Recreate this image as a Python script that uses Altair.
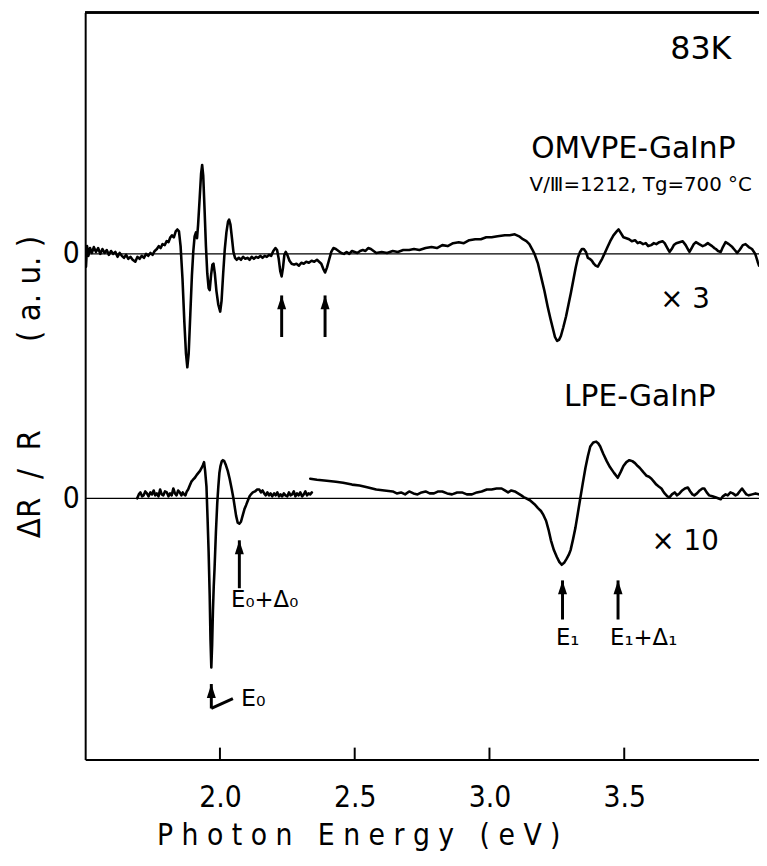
import altair as alt
import pandas as pd

# ---------------- data (x: photon energy in eV, y: dR/R in a.u. relative to each trace's zero) -------------
omvpe_x = [1.500, 1.503, 1.507, 1.512, 1.518, 1.525, 1.532, 1.540, 1.548, 1.556, 1.564, 1.572, 1.580, 1.588,
           1.596, 1.604, 1.612, 1.620, 1.628, 1.636, 1.644, 1.652, 1.660, 1.668, 1.676, 1.686, 1.694, 1.702,
           1.710, 1.718, 1.726, 1.734, 1.742, 1.750, 1.758, 1.766, 1.773, 1.780, 1.787, 1.795, 1.802, 1.809,
           1.816, 1.822, 1.829, 1.836, 1.842, 1.848, 1.854, 1.861, 1.868, 1.874, 1.879, 1.884, 1.890, 1.896,
           1.901, 1.906, 1.911, 1.915, 1.919, 1.925, 1.930, 1.934, 1.938, 1.943, 1.948, 1.953, 1.958, 1.962,
           1.967, 1.972, 1.976, 1.981, 1.987, 1.994, 2.001, 2.006, 2.012, 2.018, 2.024, 2.030, 2.034, 2.039,
           2.045, 2.050, 2.056, 2.062, 2.070, 2.078, 2.086, 2.094, 2.102, 2.110, 2.118, 2.126, 2.134, 2.142,
           2.150, 2.158, 2.166, 2.174, 2.182, 2.190, 2.198, 2.206, 2.212, 2.218, 2.224, 2.229, 2.234, 2.239,
           2.244, 2.250, 2.258, 2.266, 2.275, 2.284, 2.293, 2.302, 2.311, 2.320, 2.330, 2.340, 2.350, 2.360,
           2.368, 2.376, 2.383, 2.390, 2.397, 2.405, 2.413, 2.421, 2.430, 2.440, 2.450, 2.460, 2.470, 2.480,
           2.490, 2.500, 2.510, 2.520, 2.530, 2.540, 2.550, 2.560, 2.570, 2.580, 2.600, 2.620, 2.641, 2.660,
           2.680, 2.702, 2.720, 2.740, 2.763, 2.785, 2.805, 2.825, 2.845, 2.865, 2.886, 2.905, 2.925, 2.947,
           2.968, 2.988, 3.008, 3.030, 3.057, 3.075, 3.094, 3.110, 3.124, 3.137, 3.148, 3.158, 3.167, 3.180,
           3.192, 3.204, 3.216, 3.226, 3.235, 3.243, 3.251, 3.258, 3.265, 3.274, 3.284, 3.293, 3.302, 3.311,
           3.320, 3.328, 3.336, 3.343, 3.350, 3.358, 3.365, 3.372, 3.380, 3.387, 3.394, 3.402, 3.410, 3.418,
           3.428, 3.438, 3.448, 3.460, 3.472, 3.479, 3.486, 3.497, 3.508, 3.518, 3.528, 3.540, 3.550, 3.558,
           3.570, 3.580, 3.589, 3.600, 3.610, 3.619, 3.630, 3.642, 3.650, 3.660, 3.668, 3.676, 3.684, 3.693,
           3.705, 3.717, 3.728, 3.736, 3.742, 3.750, 3.758, 3.766, 3.778, 3.791, 3.800, 3.810, 3.815, 3.826,
           3.834, 3.840, 3.848, 3.858, 3.866, 3.876, 3.888, 3.901, 3.910, 3.919, 3.928, 3.940, 3.950, 3.962,
           3.974, 3.986, 3.995, 4.000]
omvpe_y = [0.03, -0.13, 0.08, -0.02, 0.06, 0.01, 0.07, 0.02, 0.06, 0.00, 0.05, 0.01, 0.04, -0.01,
           0.03, 0.00, 0.02, -0.03, 0.01, -0.02, -0.04, -0.01, -0.05, -0.03, -0.06, -0.08, -0.03, -0.05,
           -0.02, -0.04, 0.00, -0.02, 0.01, -0.01, 0.03, 0.05, 0.08, 0.06, 0.10, 0.09, 0.13, 0.12,
           0.17, 0.19, 0.17, 0.23, 0.25, 0.23, 0.08, -0.25, -0.70, -1.02, -1.16, -1.02, -0.62, -0.22,
           0.02, 0.18, 0.22, 0.16, 0.30, 0.58, 0.82, 0.91, 0.80, 0.45, 0.08, -0.20, -0.35, -0.37,
           -0.22, -0.11, -0.10, -0.20, -0.38, -0.52, -0.59, -0.48, -0.20, 0.05, 0.22, 0.33, 0.35, 0.30,
           0.15, 0.02, -0.04, -0.06, -0.04, -0.06, -0.03, -0.05, -0.04, -0.06, -0.03, -0.05, -0.03, -0.04,
           -0.02, -0.04, -0.02, -0.03, -0.01, -0.02, 0.03, 0.06, 0.04, -0.05, -0.18, -0.23, -0.14, -0.01,
           0.02, -0.01, -0.07, -0.10, -0.11, -0.10, -0.12, -0.09, -0.10, -0.08, -0.09, -0.07, -0.08, -0.06,
           -0.08, -0.10, -0.15, -0.19, -0.14, -0.06, 0.02, 0.06, 0.05, 0.03, 0.01, 0.00, 0.02, 0.00,
           0.03, 0.02, 0.01, 0.03, 0.04, 0.03, 0.06, 0.05, 0.03, 0.01, 0.02, 0.01, 0.03, 0.02,
           0.04, 0.04, 0.05, 0.04, 0.06, 0.07, 0.06, 0.09, 0.08, 0.11, 0.12, 0.11, 0.14, 0.15,
           0.15, 0.17, 0.17, 0.18, 0.19, 0.19, 0.20, 0.18, 0.15, 0.13, 0.10, 0.05, 0.00, -0.10,
           -0.24, -0.38, -0.54, -0.66, -0.76, -0.85, -0.89, -0.88, -0.84, -0.75, -0.64, -0.52, -0.40, -0.27,
           -0.14, -0.04, 0.02, 0.05, 0.05, 0.02, -0.04, -0.05, -0.07, -0.10, -0.12, -0.13, -0.09, -0.05,
           0.01, 0.07, 0.13, 0.19, 0.23, 0.25, 0.22, 0.17, 0.16, 0.15, 0.13, 0.14, 0.11, 0.12,
           0.10, 0.11, 0.08, 0.09, 0.11, 0.10, 0.12, 0.13, 0.11, 0.06, 0.02, 0.05, 0.09, 0.11,
           0.12, 0.13, 0.09, 0.05, 0.02, 0.06, 0.10, 0.12, 0.10, 0.08, 0.09, 0.11, 0.10, 0.08,
           0.06, 0.05, 0.03, 0.02, 0.07, 0.12, 0.10, 0.07, 0.04, 0.01, 0.04, 0.09, 0.10, 0.07,
           0.05, 0.00, -0.08, -0.12]

# LPE trace, low-energy scan segment
lpe_a_x = [1.693, 1.699, 1.705, 1.711, 1.717, 1.723, 1.729, 1.735, 1.742, 1.748, 1.754, 1.760, 1.766, 1.772,
           1.778, 1.784, 1.790, 1.796, 1.803, 1.809, 1.815, 1.821, 1.827, 1.833, 1.839, 1.845, 1.851, 1.857,
           1.862, 1.867, 1.872, 1.877, 1.882, 1.888, 1.894, 1.900, 1.907, 1.914, 1.920, 1.926, 1.932, 1.937,
           1.941, 1.945, 1.950, 1.954, 1.958, 1.962, 1.965, 1.968, 1.971, 1.974, 1.977, 1.980, 1.985, 1.990,
           1.994, 1.998, 2.002, 2.007, 2.011, 2.016, 2.022, 2.029, 2.036, 2.044, 2.050, 2.055, 2.060, 2.066,
           2.072, 2.078, 2.085, 2.091, 2.097, 2.104, 2.110, 2.115, 2.122, 2.130, 2.138, 2.146, 2.152, 2.158,
           2.164, 2.170, 2.176, 2.182, 2.188, 2.194, 2.201, 2.207, 2.213, 2.219, 2.225, 2.231, 2.237, 2.243,
           2.250, 2.256, 2.262, 2.268, 2.274, 2.280, 2.286, 2.292, 2.298, 2.305, 2.311, 2.317, 2.323, 2.329,
           2.335, 2.341]
lpe_a_y = [0.00, 0.04, 0.06, 0.02, 0.03, 0.07, 0.05, 0.02, 0.06, 0.04, 0.08, 0.03, 0.05, 0.02,
           0.09, 0.04, 0.03, 0.07, 0.06, 0.02, 0.05, 0.03, 0.10, 0.05, 0.03, 0.08, 0.06, 0.03,
           0.06, 0.04, 0.03, 0.07, 0.09, 0.13, 0.17, 0.19, 0.21, 0.24, 0.26, 0.28, 0.31, 0.34,
           0.37, 0.28, 0.12, -0.20, -0.55, -1.00, -1.45, -1.73, -1.50, -1.15, -0.90, -0.72, -0.35, -0.05,
           0.12, 0.26, 0.33, 0.38, 0.39, 0.38, 0.34, 0.28, 0.20, 0.09, 0.00, -0.09, -0.18, -0.25,
           -0.26, -0.24, -0.17, -0.11, -0.07, -0.02, 0.02, 0.04, 0.06, 0.07, 0.09, 0.09, 0.06, 0.08,
           0.05, 0.03, 0.06, 0.03, 0.05, 0.02, 0.05, 0.03, 0.06, 0.02, 0.04, 0.02, 0.05, 0.03,
           0.02, 0.06, 0.03, 0.04, 0.07, 0.02, 0.05, 0.03, 0.06, 0.02, 0.04, 0.07, 0.03, 0.05,
           0.04, 0.06]

# LPE trace, high-energy scan segment
lpe_b_x = [2.335, 2.360, 2.396, 2.430, 2.457, 2.490, 2.518, 2.550, 2.580, 2.610, 2.641, 2.656, 2.672, 2.687,
           2.702, 2.718, 2.733, 2.748, 2.763, 2.778, 2.794, 2.810, 2.825, 2.843, 2.861, 2.880, 2.898, 2.916,
           2.935, 2.953, 2.971, 2.990, 3.008, 3.026, 3.045, 3.057, 3.069, 3.081, 3.094, 3.106, 3.118, 3.128,
           3.136, 3.150, 3.167, 3.180, 3.191, 3.200, 3.210, 3.219, 3.228, 3.239, 3.250, 3.259, 3.268, 3.277,
           3.286, 3.294, 3.301, 3.310, 3.319, 3.328, 3.337, 3.346, 3.356, 3.365, 3.374, 3.385, 3.396, 3.404,
           3.411, 3.417, 3.423, 3.435, 3.447, 3.462, 3.476, 3.487, 3.497, 3.508, 3.519, 3.530, 3.540, 3.550,
           3.558, 3.570, 3.583, 3.592, 3.601, 3.610, 3.619, 3.628, 3.638, 3.645, 3.650, 3.660, 3.668, 3.677,
           3.687, 3.696, 3.705, 3.715, 3.725, 3.736, 3.745, 3.753, 3.760, 3.770, 3.780, 3.790, 3.797, 3.806,
           3.815, 3.827, 3.838, 3.848, 3.858, 3.866, 3.876, 3.884, 3.894, 3.903, 3.913, 3.920, 3.928, 3.937,
           3.945, 3.953, 3.962, 3.975, 3.987, 3.999]
lpe_b_y = [0.20, 0.19, 0.18, 0.17, 0.16, 0.14, 0.13, 0.11, 0.09, 0.08, 0.07, 0.05, 0.06, 0.04,
           0.07, 0.05, 0.04, 0.06, 0.07, 0.05, 0.05, 0.07, 0.07, 0.05, 0.04, 0.06, 0.06, 0.04,
           0.04, 0.06, 0.07, 0.09, 0.09, 0.10, 0.10, 0.08, 0.06, 0.08, 0.07, 0.05, 0.03, 0.01,
           0.00, -0.02, -0.06, -0.10, -0.13, -0.17, -0.23, -0.32, -0.43, -0.53, -0.60, -0.65, -0.68, -0.66,
           -0.62, -0.58, -0.53, -0.42, -0.30, -0.15, 0.00, 0.15, 0.31, 0.43, 0.53, 0.57, 0.58, 0.56,
           0.53, 0.49, 0.45, 0.38, 0.32, 0.26, 0.21, 0.27, 0.33, 0.37, 0.39, 0.38, 0.36, 0.33,
           0.31, 0.27, 0.23, 0.22, 0.20, 0.17, 0.14, 0.12, 0.10, 0.07, 0.05, 0.02, 0.01, 0.04,
           0.06, 0.03, 0.05, 0.08, 0.10, 0.11, 0.07, 0.04, 0.03, 0.05, 0.08, 0.10, 0.10, 0.06,
           0.03, 0.02, 0.01, 0.00, -0.01, 0.02, 0.04, 0.03, 0.06, 0.05, 0.03, 0.04, 0.07, 0.10,
           0.07, 0.04, 0.03, 0.04, 0.05, 0.04]

# vertical offsets of the two traces in the figure
trace_names = ["OMVPE-GaInP", "LPE-GaInP"]
trace_offsets = [2.5, 0.0]

x_ticks = [2.0, 2.5, 3.0, 3.5]

# arrows (x, base, tip) in plot units
arrow_x = [2.229, 2.390, 2.072, 3.271, 3.477, 1.968]
arrow_base = [1.65, 1.65, -0.92, -1.24, -1.24, -2.15]
arrow_tip = [2.075, 2.075, -0.43, -0.84, -0.84, -1.90]

# leader line of the E0 arrow
leader_x = [1.968]
leader_x2 = [2.048]
leader_y = [-2.15]
leader_y2 = [-2.05]

# labels (centered)
label_text = ["83K", "OMVPE-GaInP", "V/Ⅲ=1212, Tg=700 °C", "× 3", "LPE-GaInP", "× 10",
              "E₀+Δ₀", "E₁", "E₁+Δ₁"]
label_x = [3.784, 3.534, 3.561, 3.726, 3.558, 3.726, 2.166, 3.290, 3.572]
label_y = [4.60, 3.573, 3.205, 2.03, 1.032, -0.445, -1.04, -1.43, -1.43]
label_size = [32, 30, 20, 28, 30, 28, 23, 23, 23]
# label (left aligned)
left_text = ["E₀"]
left_x = [2.078]
left_y = [-2.05]

# ---------------- build tables ----------------
rows = []
for seg, (xs, ys, off) in enumerate([(omvpe_x, omvpe_y, trace_offsets[0]),
                                     (lpe_a_x, lpe_a_y, trace_offsets[1]),
                                     (lpe_b_x, lpe_b_y, trace_offsets[1])]):
    for i, (xv, yv) in enumerate(zip(xs, ys)):
        rows.append({"seg": seg, "i": i, "E": xv, "v": yv + off})
traces = pd.DataFrame(rows)

zeros = pd.DataFrame({"name": trace_names, "v": trace_offsets})
arrows = pd.DataFrame({"E": arrow_x, "v": arrow_base, "v2": arrow_tip})
leader = pd.DataFrame({"E": leader_x, "E2": leader_x2, "v": leader_y, "v2": leader_y2})
labels = pd.DataFrame({"t": label_text, "E": label_x, "v": label_y, "s": label_size})
lefts = pd.DataFrame({"t": left_text, "E": left_x, "v": left_y})
ticks = pd.DataFrame({"E": x_ticks})

W, H = 681, 755
xscale = alt.Scale(domain=[1.5, 4.0], nice=False, zero=False)
yscale = alt.Scale(domain=[-2.672, 4.97], nice=False, zero=False)

NARROW = "'Liberation Sans Narrow', 'DejaVu Sans Condensed', 'Liberation Sans', sans-serif"
SANS = "'DejaVu Sans', sans-serif"
NB = "\u00a0"

xaxis = alt.Axis(values=x_ticks, format=".1f", grid=False, ticks=False,
                 domainColor="black", domainWidth=2,
                 labelFont=NARROW, labelFontSize=30, labelColor="black", labelPadding=24,
                 title="P h o t o n" + NB * 3 + "E n e r g y" + NB * 3 + "( e V )",
                 titleFont=NARROW, titleFontSize=30, titleFontWeight="normal", titleColor="black",
                 titleX=276, titleY=77, titleAnchor="middle", titleAlign="center", titleBaseline="middle")
yaxis = alt.Axis(values=trace_offsets, labelExpr="'0'", grid=False, ticks=False,
                 domainColor="black", domainWidth=2,
                 labelFont=NARROW, labelFontSize=30, labelColor="black", labelPadding=6,
                 title="ΔR" + NB * 2 + "/" + NB * 2 + "R" + "\u2003" * 3 + "(" + NB + "a." + NB + "u." + NB + ")",
                 titleFont=NARROW, titleFontSize=33, titleFontWeight="normal", titleColor="black",
                 titleAngle=270, titleX=-56, titleY=378, titleAlign="center", titleBaseline="middle")

X = lambda f="E": alt.X(f"{f}:Q", scale=xscale, axis=xaxis)
Y = lambda f="v": alt.Y(f"{f}:Q", scale=yscale, axis=yaxis)

zero_lines = alt.Chart(zeros).mark_rule(color="black", strokeWidth=1.2).encode(y=Y())

lines = alt.Chart(traces).mark_line(color="black", strokeWidth=2.6, clip=True,
                                    strokeJoin="round", strokeCap="round").encode(
    x=X(), y=Y(), detail="seg:N", order="i:Q")

shafts = alt.Chart(arrows).mark_rule(color="black", strokeWidth=3).encode(
    x=X(), y=Y(), y2="v2:Q")
heads = alt.Chart(arrows).mark_point(shape="M0,-1L0.65,1L-0.65,1Z", filled=True, color="black",
                                     size=196, opacity=1, yOffset=7).encode(x=X(), y=Y("v2"))
lead = alt.Chart(leader).mark_rule(color="black", strokeWidth=3).encode(
    x=X(), x2="E2:Q", y=Y(), y2="v2:Q")

texts = alt.Chart(labels).mark_text(font=SANS, color="black", align="center", baseline="middle").encode(
    x=X(), y=Y(), text="t:N", size=alt.Size("s:Q", scale=None, legend=None))
texts_left = alt.Chart(lefts).mark_text(font=SANS, color="black", align="left", baseline="middle",
                                        fontSize=24).encode(x=X(), y=Y(), text="t:N")

tick_marks = alt.Chart(ticks).mark_rule(color="black", strokeWidth=2).encode(
    x=X(), y=alt.value(H), y2=alt.value(H - 12))
top_line = alt.Chart(ticks).mark_rule(color="black", strokeWidth=2).encode(
    x=alt.value(0), x2=alt.value(W), y=alt.value(0))

chart = alt.layer(zero_lines, lines, shafts, heads, lead, texts, texts_left, tick_marks, top_line).properties(
    width=W, height=H,
    autosize=alt.AutoSizeParams(type="none"),
    padding={"left": 78, "top": 0, "right": 0, "bottom": 90},
    background="white",
).configure_view(stroke=None)

chart.save("out.html", embed_options={"renderer": "svg", "actions": False})
